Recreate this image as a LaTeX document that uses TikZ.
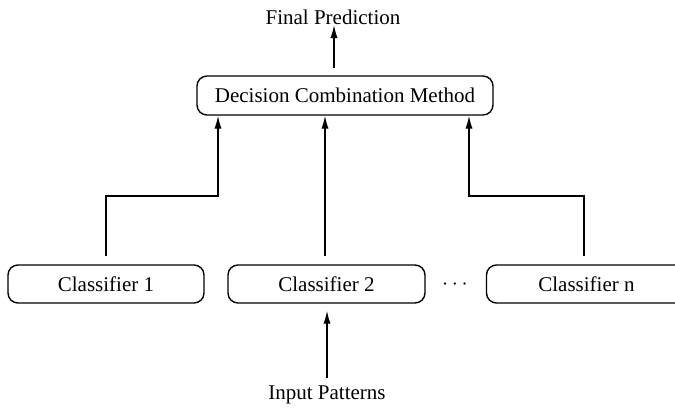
\documentclass[tikz,border=0pt]{standalone}
\usepackage{fontspec}
\setmainfont{Liberation Serif}
\usetikzlibrary{arrows.meta}
\begin{document}
\begin{tikzpicture}[x=0.5pt,y=-0.5pt,
  box/.style={draw,line width=0.7pt,rounded corners=5pt,minimum height=19pt,inner sep=0pt,font=\fontsize{10.5pt}{12pt}\selectfont},
  lbl/.style={inner sep=0pt,font=\fontsize{10.5pt}{12pt}\selectfont},
  arr/.style={line width=0.7pt,-{Latex[length=6.5pt,width=3.6pt]}},
  ln/.style={line width=0.7pt}]
\useasboundingbox (0,0) rectangle (675,408);
\clip (0,0) rectangle (675,408);
\node[lbl] (fp) at (333,17) {Final Prediction};
\node[box,minimum width=148pt,minimum height=19.5pt] (dcm) at (345,95.5) {Decision Combination Method};
\node[box,minimum width=98pt] (c1) at (106,284) {Classifier 1};
\node[box,minimum width=98.5pt] (c2) at (326.5,284) {Classifier 2};
\node[box,minimum width=100pt] (cn) at (586.5,284) {Classifier n};
\node[lbl] (dots) at (455,285) {$\cdots$};
\node[lbl] (ip) at (327,395) {Input Patterns};
\coordinate (fpin) at (334,68);
\coordinate (fptip) at (334,25);
\coordinate (lj) at (218,196);
\coordinate (rj) at (469,196);
\coordinate (ipin) at (327,378);
\draw[arr] (fpin) -- (fptip);
\draw[arr] ([yshift=4pt]c1.north) |- (lj) -- (lj |- dcm.south);
\draw[arr] ([xshift=-0.75pt,yshift=4pt]c2.north) -- ([xshift=-0.75pt]c2.north |- dcm.south);
\draw[arr] ([xshift=-1.25pt,yshift=4pt]cn.north) |- (rj) -- (rj |- dcm.south);
\draw[arr] (ipin) -- ([yshift=-3.5pt]c2.south -| ipin);
\end{tikzpicture}
\end{document}
